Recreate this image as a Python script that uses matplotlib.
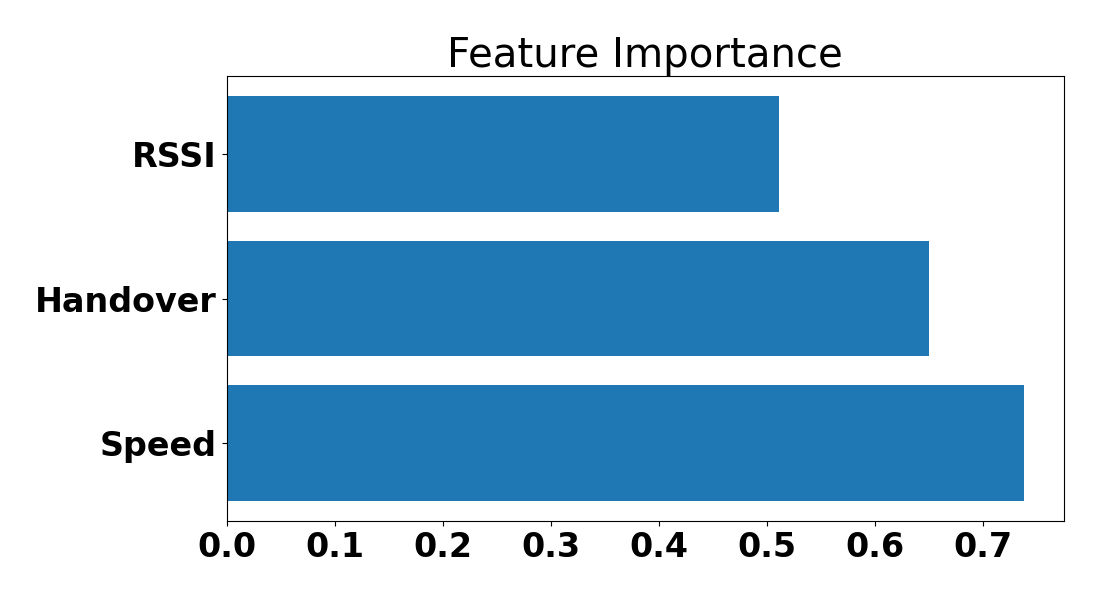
import matplotlib
matplotlib.use("Agg")
from matplotlib import pyplot as plt

# feature importance values
features = ['Speed', 'Handover', 'RSSI']
importance = [0.738, 0.650, 0.511]

fig, ax = plt.subplots(figsize=(11, 6), dpi=100)
fig.subplots_adjust(left=0.206, right=0.967, top=0.873, bottom=0.132)

ax.barh(features, importance, color='#1f77b4')
ax.set_title('Feature Importance', fontsize=29)
plt.xticks(fontsize=24, fontweight='bold')
plt.yticks(fontsize=24, fontweight='bold')

fig.savefig('out.png')
